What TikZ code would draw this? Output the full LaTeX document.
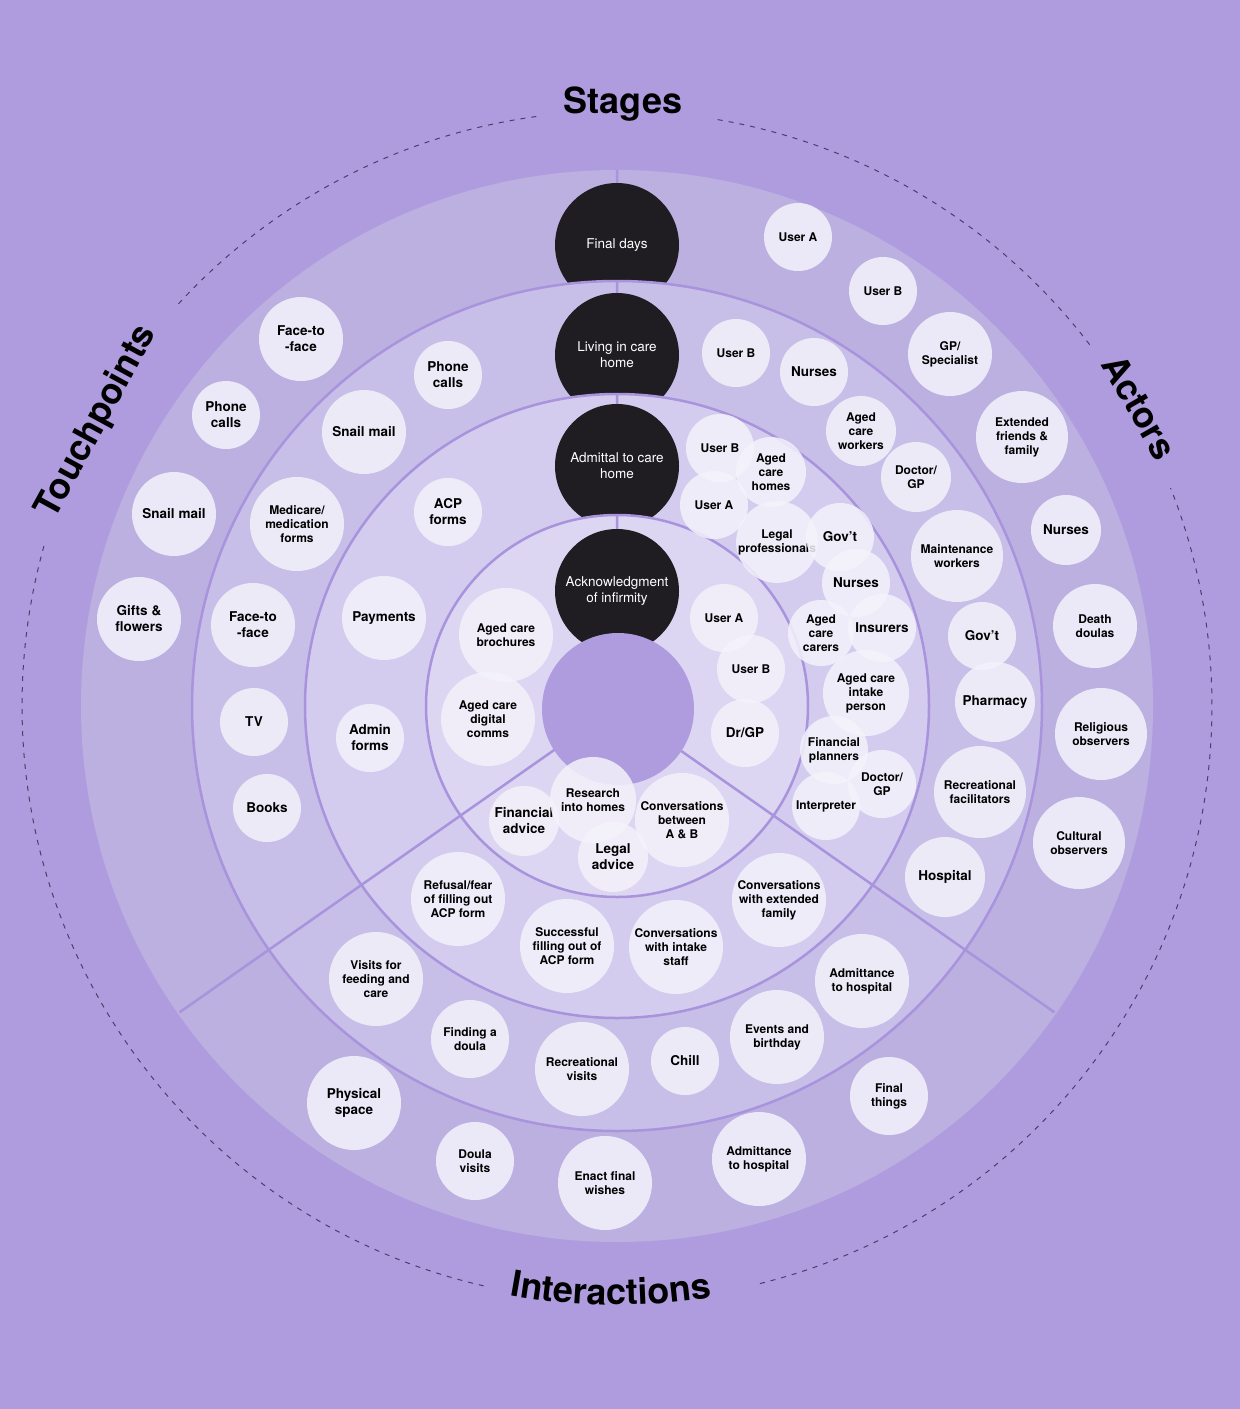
\documentclass[tikz,border=0pt]{standalone}
\usepackage{fontspec}
\setmainfont{TeX Gyre Heros}
\usetikzlibrary{decorations.text}
\definecolor{bgc}{HTML}{AF9CDF}
\definecolor{ringa}{HTML}{BCB0E1}
\definecolor{ringb}{HTML}{C8BFE9}
\definecolor{ringc}{HTML}{D3CCEF}
\definecolor{ringd}{HTML}{DCD6F3}
\definecolor{centc}{HTML}{AF9CDF}
\definecolor{linec}{HTML}{A893DC}
\definecolor{bubc}{HTML}{F4F2FB}
\definecolor{darkc}{HTML}{1F1D21}
\definecolor{dashc}{HTML}{4A3F6A}
\newcommand\fsm{\bfseries\fontsize{12}{14}\selectfont}
\newcommand\fbg{\bfseries\fontsize{13.5}{16}\selectfont}
\newcommand\labfont{\bfseries\fontsize{36}{40}\selectfont}
\newcommand\bb[6]{\node[bubble,minimum size=#4pt,font=#5] (#1) at (#2,-#3) {#6};}
\begin{document}
\begin{tikzpicture}[x=1pt,y=1pt,
  bubble/.style={circle,fill=bubc,fill opacity=0.85,text opacity=1,inner sep=0pt,align=center,text=black},
  stagenode/.style={circle,fill=darkc,text=white,inner sep=0pt,minimum size=124pt,align=center,font=\fontsize{13.5}{16}\selectfont},
  divline/.style={draw=linec,line width=2.5pt},
  ringline/.style={draw=linec,line width=2.5pt},
  dashline/.style={draw=dashc,line width=1pt,dash pattern=on 5pt off 6pt},
  labelnode/.style={inner sep=0pt,font=\labfont,text=black},
  labeltext/.style={decorate,decoration={text along path,text align=center,text={|\labfont|#1}}}
]
\useasboundingbox (0,0) rectangle (1240,-1409);
\fill[bgc] (0,0) rectangle (1240,-1409);
\coordinate (C) at (617,-706);

% outer ring
\fill[ringa] (C) circle[radius=536];
\draw[divline] (C) -- ++(90:536) (C) -- ++(215:534) (C) -- ++(325:534);
\node[stagenode] (s1) at (617,-245) {Final days};
% ring 2
\path[fill=ringb,ringline] (C) circle[radius=425];
\draw[divline] (C) -- ++(90:425) (C) -- ++(215:425) (C) -- ++(325:425);
\node[stagenode] (s2) at (617,-355) {Living in care\\home};
% ring 3
\path[fill=ringc,ringline] (C) circle[radius=312];
\draw[divline] (C) -- ++(90:312) (C) -- ++(215:312) (C) -- ++(325:312);
\node[stagenode] (s3) at (617,-466) {Admittal to care\\home};
% ring 4
\path[fill=ringd,ringline] (C) circle[radius=191];
\draw[divline] (C) -- ++(90:191) (C) -- ++(215:191) (C) -- ++(325:191);
\node[stagenode] (s4) at (617,-591) {Acknowledgment\\of infirmity};
% centre
\fill[centc] (618,-709) circle[radius=76];

% dashed outer circle pieces
\draw[dashline] ([shift={(37.4:595)}]C) arc[start angle=37.4,end angle=80.3,radius=595];
\draw[dashline] ([shift={(97.8:595)}]C) arc[start angle=97.8,end angle=138,radius=595];
\draw[dashline] ([shift={(164.4:595)}]C) arc[start angle=164.4,end angle=257.1,radius=595];
\draw[dashline] ([shift={(283.9:595)}]C) arc[start angle=283.9,end angle=381.5,radius=595];

% section labels
\node[labelnode] (lstages) at (623,-104) {Stages};
\node[labelnode,rotate=61.4] (ltouch) at (97,-422) {Touchpoints};
\node[labelnode,rotate=-60.2] (lactors) at (1140,-407) {Actors};
\path[labeltext=Interactions] ([shift={(249.4:599)}]C) arc[start angle=249.4,end angle=289.4,radius=599];

% Actors - outer
\bb{a1}{798}{237}{68}{\fsm}{User A}
\bb{a2}{883}{291}{68}{\fsm}{User B}
\bb{a3}{950}{354}{84}{\fsm}{GP/\\Specialist}
\bb{a4}{1022}{437}{92}{\fsm}{Extended\\friends \&\\family}
\bb{a5}{1066}{530}{70}{\fbg}{Nurses}
\bb{a6}{1095}{626}{84}{\fsm}{Death\\doulas}
\bb{a7}{1101}{734}{92}{\fsm}{Religious\\observers}
\bb{a8}{1079}{843}{92}{\fsm}{Cultural\\observers}
% Actors - ring 2
\bb{b1}{736}{353}{68}{\fsm}{User B}
\bb{b2}{814}{372}{68}{\fbg}{Nurses}
\bb{b3}{861}{431}{70}{\fsm}{Aged\\care\\workers}
\bb{b4}{916}{477}{70}{\fsm}{Doctor/\\GP}
\bb{b5}{957}{556}{92}{\fsm}{Maintenance\\workers}
\bb{b6}{982}{636}{68}{\fbg}{Gov’t}
\bb{b7}{995}{702}{80}{\fbg}{Pharmacy}
\bb{b8}{980}{792}{92}{\fsm}{Recreational\\facilitators}
\bb{b9}{945}{877}{80}{\fbg}{Hospital}
% Actors - ring 3
\bb{c1}{720}{448}{68}{\fsm}{User B}
\bb{c3}{714}{505}{68}{\fsm}{User A}
\bb{c2}{771}{472}{70}{\fsm}{Aged\\care\\homes}
\bb{c4}{777}{542}{80}{\fsm}{Legal\\professionals}
\bb{c5}{840}{537}{68}{\fbg}{Gov’t}
\bb{c6}{856}{583}{68}{\fbg}{Nurses}
\bb{c7}{821}{633}{66}{\fsm}{Aged\\care\\carers}
\bb{c8}{882}{628}{68}{\fbg}{Insurers}
\bb{c9}{866}{693}{86}{\fsm}{Aged care\\intake\\person}
\bb{c10}{834}{750}{68}{\fsm}{Financial\\planners}
\bb{c11}{882}{784}{68}{\fsm}{Doctor/\\GP}
\bb{c12}{826}{806}{68}{\fsm}{Interpreter}
% Actors - ring 4
\bb{d1}{724}{618}{68}{\fsm}{User A}
\bb{d2}{751}{669}{68}{\fsm}{User B}
\bb{d3}{745}{733}{68}{\fbg}{Dr/GP}

% Touchpoints
\bb{t1}{301}{339}{84}{\fbg}{Face-to\\-face}
\bb{t2}{226}{415}{68}{\fbg}{Phone\\calls}
\bb{t3}{174}{514}{84}{\fbg}{Snail mail}
\bb{t4}{139}{619}{84}{\fbg}{Gifts \&\\flowers}
\bb{t5}{448}{375}{68}{\fbg}{Phone\\calls}
\bb{t6}{364}{432}{84}{\fbg}{Snail mail}
\bb{t7}{297}{524}{94}{\fsm}{Medicare/\\medication\\forms}
\bb{t8}{253}{625}{84}{\fbg}{Face-to\\-face}
\bb{t9}{254}{722}{68}{\fbg}{TV}
\bb{t10}{267}{808}{68}{\fbg}{Books}
\bb{t11}{448}{512}{68}{\fbg}{ACP\\forms}
\bb{t12}{384}{618}{84}{\fbg}{Payments}
\bb{t13}{370}{738}{68}{\fbg}{Admin\\forms}
\bb{t14}{506}{635}{94}{\fsm}{Aged care\\brochures}
\bb{t15}{488}{719}{94}{\fsm}{Aged care\\digital\\comms}

% Interactions
\bb{i1}{524}{821}{70}{\fbg}{Financial\\advice}
\bb{i2}{593}{800}{86}{\fsm}{Research\\into homes}
\bb{i3}{682}{820}{94}{\fsm}{Conversations\\between\\A \& B}
\bb{i4}{613}{857}{70}{\fbg}{Legal\\advice}
\bb{i5}{458}{899}{94}{\fsm}{Refusal/fear\\of filling out\\ACP form}
\bb{i6}{567}{946}{94}{\fsm}{Successful\\filling out of\\ACP form}
\bb{i7}{676}{947}{94}{\fsm}{Conversations\\with intake\\staff}
\bb{i8}{779}{900}{94}{\fsm}{Conversations\\with extended\\family}
\bb{i9}{376}{979}{94}{\fsm}{Visits for\\feeding and\\care}
\bb{i10}{470}{1039}{78}{\fsm}{Finding a\\doula}
\bb{i11}{582}{1069}{94}{\fsm}{Recreational\\visits}
\bb{i12}{685}{1061}{68}{\fbg}{Chill}
\bb{i13}{777}{1037}{94}{\fsm}{Events and\\birthday}
\bb{i14}{862}{981}{94}{\fsm}{Admittance\\to hospital}
\bb{i15}{354}{1103}{94}{\fbg}{Physical\\space}
\bb{i16}{475}{1161}{78}{\fsm}{Doula\\visits}
\bb{i17}{605}{1183}{94}{\fsm}{Enact final\\wishes}
\bb{i18}{759}{1159}{94}{\fsm}{Admittance\\to hospital}
\bb{i19}{889}{1096}{78}{\fsm}{Final\\things}
\end{tikzpicture}
\end{document}
